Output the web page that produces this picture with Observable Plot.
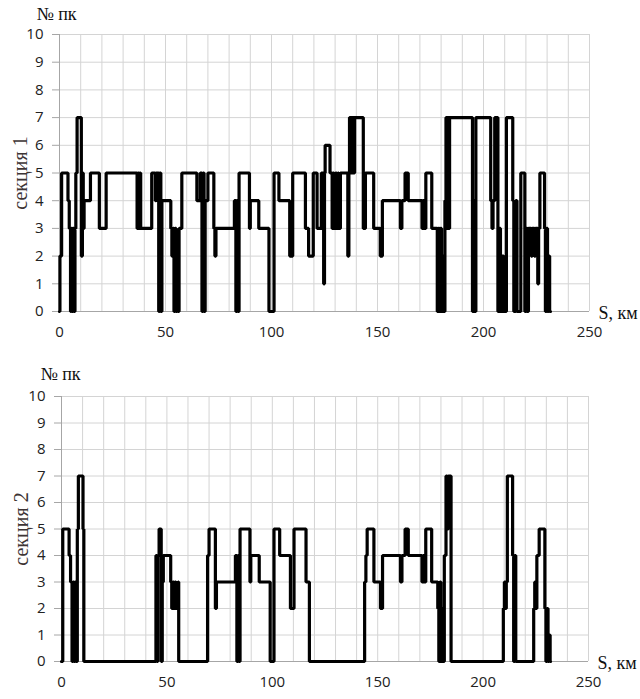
<!DOCTYPE html>
<html>
<head>
<meta charset="utf-8">
<script src="https://cdn.jsdelivr.net/npm/d3@7"></script>
<script src="https://cdn.jsdelivr.net/npm/@observablehq/plot@0.6"></script>
<style>
  html, body { margin: 0; padding: 0; background: #fff; }
  #chart { width: 640px; height: 699px; }
  #chart svg { display: block; }
</style>
</head>
<body>
<div id="chart"></div>
<script>
// Section 1: distance (km) where the level changes, and the new level (№ пк)
const s1Km = [0,0.2,1,4,4.6,5.2,5.6,6.0,6.4,6.8,7.3,7.7,8.3,10.3,10.8,11.2,11.6,14.6,18.8,22,36.6,37,37.4,37.8,38.3,43.5,45.2,45.6,46.8,47.2,47.8,48.3,52.5,53.0,53.6,54.0,54.5,55.0,55.5,56.0,56.4,57.7,64.8,66.4,67.2,67.7,68.2,68.7,70,72.8,73.3,73.8,82.5,83.2,83.7,84.2,84.7,89.6,90,94,98.8,101.2,103.5,108.6,110,116,117.5,119.7,121.5,123.5,124.6,125,125.3,127.6,128.6,129,129.5,130.2,130.7,131.3,131.7,132.5,136,136.5,136.8,137.2,137.6,138,138.4,138.8,139.2,143.3,144.3,148.2,151.3,152.3,160.8,161.5,163,164.5,171,171.5,172,172.8,175.6,178.2,178.7,179.2,179.7,180.2,180.8,181.3,181.8,182.3,182.7,183.1,183.6,184,194.8,195.4,195.8,196.4,203.4,204,204.5,205.3,206.8,207.5,208,208.8,209.5,210.8,213.8,214.3,215.2,215.8,217.6,219.5,220.2,220.6,221.2,222.5,223,224,224.5,225.6,226,226.6,228.8,229.2,229.7,230.2,230.7,231.2,231.6];
const s1Val = [0,2,5,4,3,0,3,0,3,0,3,5,7,2,5,3,4,5,3,5,3,5,3,5,3,5,4,5,0,5,0,4,3,2,3,0,3,0,2,0,3,5,4,5,0,5,0,4,5,3,2,3,4,0,4,0,5,3,4,3,0,5,4,2,5,3,2,5,3,5,1,5,6,5,3,5,3,5,3,5,3,5,2,5,7,5,7,5,7,5,7,3,5,3,2,4,3,4,5,4,3,4,3,5,3,0,3,0,3,0,2,0,4,7,3,7,3,7,0,4,0,7,4,3,4,7,0,3,0,2,0,7,4,0,4,0,5,0,3,0,3,2,3,2,3,1,3,5,3,0,3,0,2,0,0];

// Section 2
const s2Km = [0,0.6,3.6,4.3,5,5.5,6,6.5,7,7.5,8,10.2,10.6,44.8,45.3,45.7,46.3,47.3,47.8,48.3,51.8,52.3,52.8,53.3,53.8,54.3,55.3,55.6,69.3,70,73,73.5,82.5,83.2,83.7,84.2,84.7,89.4,89.8,93.8,99,100.8,103.5,108.6,110.3,116,117.6,143.8,144.4,145,148.2,151.3,152.3,160.8,161.5,163,164.5,171,171.5,172,172.8,175.6,178.5,179,179.5,180,180.5,181,181.6,182.4,183,183.5,184.8,209.6,210.1,210.6,211,211.5,214,214.5,215,215.5,224,224.5,225,225.5,226.6,229.3,229.8,230.3,230.8,231.3,231.8,232];
const s2Val = [0,5,4,3,0,3,0,3,0,5,7,5,0,4,0,4,5,0,3,4,3,2,3,2,3,2,3,0,4,5,2,3,4,0,4,0,5,3,4,3,0,5,4,2,5,3,0,3,4,5,3,2,4,3,4,5,4,3,4,3,5,3,2,0,3,0,2,0,4,7,5,7,0,2,3,2,3,7,4,0,4,0,2,3,2,4,5,2,0,2,0,1,0,0];

const xTicks = [0, 50, 100, 150, 200, 250];
const yTicks = [0,1,2,3,4,5,6,7,8,9,10];
const xGrid = d3.range(0, 251, 10);
const yLabel = "№ пк";
const xLabel = "S, км";
const sectionLabels = ["секция 1", "секция 2"];

function panel(km, val, label, opts) {
  const data = km.map((k, i) => ({km: k, v: val[i]}));
  return Plot.plot({
    width: 640,
    height: opts.height,
    marginLeft: opts.ml,
    marginRight: opts.mr,
    marginTop: opts.mt,
    marginBottom: opts.mb,
    style: {fontFamily: "'Open Sans', sans-serif", fontSize: "15px", color: "#222", background: "#fff"},
    x: {domain: [0, 250], ticks: xTicks, tickSize: 0, tickPadding: 15, label: null},
    y: {domain: [0, 10], ticks: yTicks, tickSize: 7, tickPadding: 9, label: null},
    marks: [
      Plot.gridX(xGrid, {stroke: "#d4d4d4", strokeOpacity: 1, strokeWidth: 1}),
      Plot.gridY(yTicks, {stroke: "#d4d4d4", strokeOpacity: 1, strokeWidth: 1}),
      Plot.ruleX([0], {stroke: "#a6a6a6"}),
      Plot.ruleY([0], {stroke: "#a6a6a6"}),
      Plot.axisY({ticks: yTicks, tickSize: 7, tickPadding: 9, stroke: "#a6a6a6", fill: "#222", label: null}),
      Plot.axisX({ticks: xTicks, tickSize: 0, tickPadding: 15, fill: "#222", label: null}),
      Plot.line(data, {x: "km", y: "v", curve: "step-after", stroke: "#000", strokeWidth: 3.2, strokeLinejoin: "miter"}),
      Plot.text([yLabel], {frameAnchor: "top-left", dx: opts.yldx, dy: opts.yldy, textAnchor: "middle", lineAnchor: "middle", fontFamily: "'Liberation Serif', serif", fontSize: 18, fill: "#111"}),
      Plot.text([label], {frameAnchor: "left", dx: opts.sdx, rotate: -90, textAnchor: "middle", lineAnchor: "middle", fontFamily: "'Liberation Serif', serif", fontSize: 20, fill: "#3d3434"}),
      Plot.text([xLabel], {frameAnchor: "bottom-right", dx: 9, dy: 2, textAnchor: "start", lineAnchor: "middle", fontFamily: "'Liberation Serif', serif", fontSize: 18, fill: "#111"})
    ]
  });
}

const chart = document.getElementById("chart");
chart.appendChild(panel(s1Km, s1Val, sectionLabels[0], {height: 350, ml: 59, mr: 51, mt: 34, mb: 39, yldx: -3, yldy: -20, sdx: -39}));
chart.appendChild(panel(s2Km, s2Val, sectionLabels[1], {height: 349, ml: 61, mr: 52, mt: 46, mb: 38, yldx: -1, yldy: -22, sdx: -40}));
</script>
</body>
</html>
